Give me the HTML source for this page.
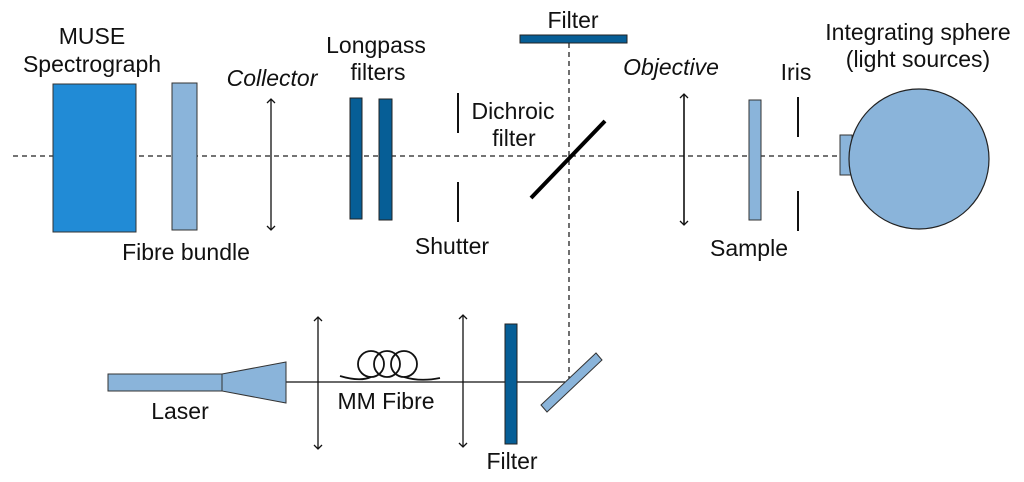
<!DOCTYPE html>
<html><head><meta charset="utf-8"><style>
html,body{margin:0;padding:0;background:#fff;width:1024px;height:482px;overflow:hidden}
text{font-family:"Liberation Sans",sans-serif;font-size:23px;fill:#111}
</style></head><body>
<svg width="1024" height="482" viewBox="0 0 1024 482" xmlns="http://www.w3.org/2000/svg">
<defs>
<marker id="ah" viewBox="0 0 10 10" refX="5" refY="5" markerWidth="10" markerHeight="10" orient="auto-start-reverse" markerUnits="userSpaceOnUse">
<path d="M1,1 L5,5 L1,9" fill="none" stroke="#111" stroke-width="1.3"/>
</marker>
</defs>
<g stroke="#222" stroke-width="1.3" stroke-dasharray="5,4" fill="none">
<line x1="13" y1="156" x2="840" y2="156"/>
<line x1="569" y1="43" x2="569" y2="381"/>
</g>
<rect x="53" y="84" width="83" height="148" fill="#218bd6" stroke="#333" stroke-width="1"/>
<rect x="172" y="83" width="25" height="147" fill="#8ab4da" stroke="#333" stroke-width="1"/>
<line x1="271" y1="99" x2="271" y2="230" stroke="#111" stroke-width="1.3" marker-start="url(#ah)" marker-end="url(#ah)"/>
<rect x="350" y="98" width="12" height="121" fill="#065e96" stroke="#222" stroke-width="1"/>
<rect x="379" y="99" width="13" height="121" fill="#065e96" stroke="#222" stroke-width="1"/>
<line x1="458" y1="93" x2="458" y2="133" stroke="#111" stroke-width="2"/>
<line x1="458" y1="182" x2="458" y2="222" stroke="#111" stroke-width="2"/>
<line x1="531" y1="198" x2="605" y2="121" stroke="#000" stroke-width="4"/>
<rect x="520" y="35" width="107" height="8" fill="#065e96" stroke="#222" stroke-width="1"/>
<line x1="684" y1="94" x2="684" y2="225" stroke="#111" stroke-width="1.6" marker-start="url(#ah)" marker-end="url(#ah)"/>
<rect x="749" y="100" width="12" height="120" fill="#8ab4da" stroke="#333" stroke-width="1"/>
<line x1="798" y1="97" x2="798" y2="137" stroke="#111" stroke-width="2"/>
<line x1="798" y1="191" x2="798" y2="231" stroke="#111" stroke-width="2"/>
<rect x="840" y="135" width="12" height="40" fill="#8ab4da" stroke="#333" stroke-width="1"/>
<ellipse cx="919" cy="159" rx="70" ry="70" fill="#8ab4da" stroke="#222" stroke-width="1.2"/>
<line x1="286" y1="382" x2="565" y2="382" stroke="#111" stroke-width="1.3"/>
<rect x="108" y="374" width="114" height="17" fill="#8ab4da" stroke="#333" stroke-width="1"/>
<polygon points="222,374 286,362 286,403 222,391" fill="#8ab4da" stroke="#333" stroke-width="1"/>
<line x1="318" y1="317" x2="318" y2="449" stroke="#111" stroke-width="1.3" marker-start="url(#ah)" marker-end="url(#ah)"/>
<line x1="463" y1="315" x2="463" y2="447" stroke="#111" stroke-width="1.3" marker-start="url(#ah)" marker-end="url(#ah)"/>
<g fill="none" stroke="#111" stroke-width="1.8">
<circle cx="371" cy="364" r="13"/>
<circle cx="387" cy="364" r="13"/>
<circle cx="404" cy="364" r="13"/>
<path d="M340,376 Q360,382 371,377"/>
<path d="M404,377 Q420,382 440,378"/>
</g>
<rect x="505" y="324" width="12" height="120" fill="#065e96" stroke="#222" stroke-width="1"/>
<polygon points="541,405 596,353 602,360 547,412" fill="#8ab4da" stroke="#333" stroke-width="1"/>
<text x="92" y="44" text-anchor="middle">MUSE</text>
<text x="92" y="72" text-anchor="middle">Spectrograph</text>
<text x="186" y="260" text-anchor="middle">Fibre bundle</text>
<text x="272" y="86" text-anchor="middle" font-style="italic">Collector</text>
<text x="376" y="53" text-anchor="middle">Longpass</text>
<text x="378" y="80" text-anchor="middle">filters</text>
<text x="452" y="254" text-anchor="middle">Shutter</text>
<text x="513" y="119" text-anchor="middle">Dichroic</text>
<text x="514" y="146" text-anchor="middle">filter</text>
<text x="573" y="28" text-anchor="middle">Filter</text>
<text x="671" y="75" text-anchor="middle" font-style="italic">Objective</text>
<text x="796" y="80" text-anchor="middle">Iris</text>
<text x="749" y="256" text-anchor="middle">Sample</text>
<text x="918" y="40" text-anchor="middle">Integrating sphere</text>
<text x="918" y="67" text-anchor="middle">(light sources)</text>
<text x="180" y="419" text-anchor="middle">Laser</text>
<text x="386" y="409" text-anchor="middle">MM Fibre</text>
<text x="512" y="469" text-anchor="middle">Filter</text>
</svg>
</body></html>
